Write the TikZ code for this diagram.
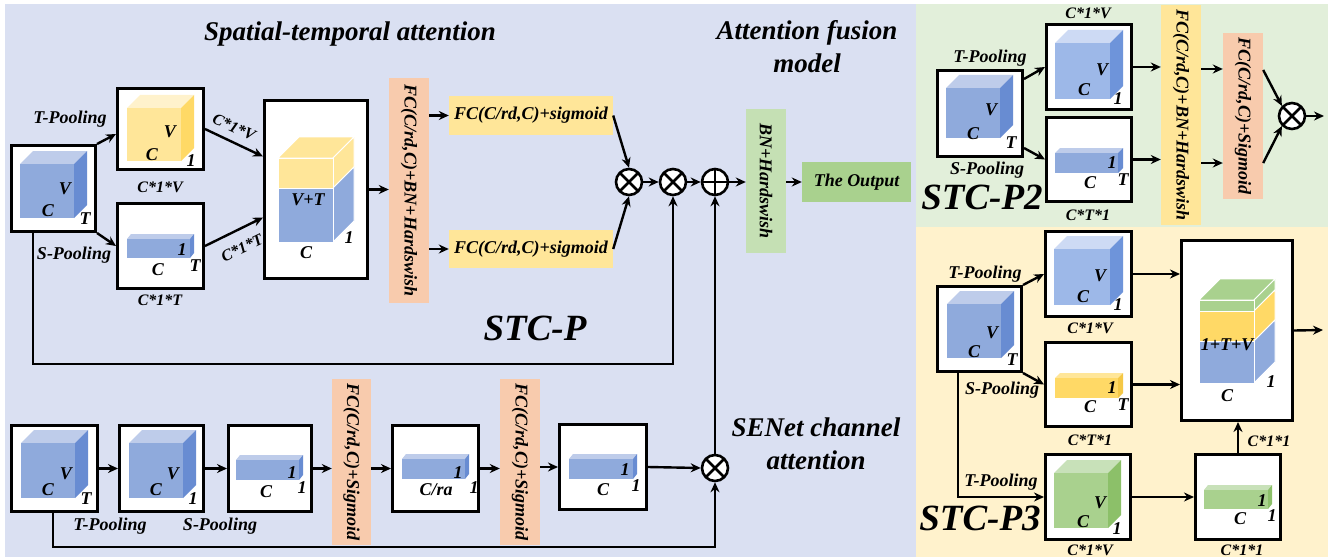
\documentclass[tikz,border=0pt]{standalone}
\usepackage{fontspec}
\setmainfont{Liberation Serif}
\usetikzlibrary{arrows.meta,calc}
\definecolor{bgblue}{RGB}{218,224,242}
\definecolor{bggreen}{RGB}{226,239,218}
\definecolor{bgyellow}{RGB}{255,242,204}
\definecolor{orangebar}{RGB}{248,203,173}
\definecolor{ybox}{RGB}{255,230,153}
\definecolor{gbar}{RGB}{197,224,180}
\definecolor{gout}{RGB}{169,209,142}
\definecolor{cbfront}{RGB}{143,170,220}
\definecolor{cbtop}{RGB}{190,204,234}
\definecolor{cbside}{RGB}{104,140,210}
\definecolor{clfront}{RGB}{157,184,232}
\definecolor{cltop}{RGB}{205,218,244}
\definecolor{clside}{RGB}{110,148,218}
\definecolor{cyfront}{RGB}{255,230,153}
\definecolor{cytop}{RGB}{255,242,204}
\definecolor{cyside}{RGB}{255,217,102}
\definecolor{cytfront}{RGB}{255,217,102}
\definecolor{cyttop}{RGB}{255,230,153}
\definecolor{cytside}{RGB}{245,200,70}
\definecolor{cgfront}{RGB}{169,209,142}
\definecolor{cgtop}{RGB}{200,225,185}
\definecolor{cgside}{RGB}{140,192,105}
\newcounter{lc}
\newcommand{\cl}[3]{\stepcounter{lc}\node[cl] (cl\thelc) at (#1,#2) {#3};}
\newcommand{\drawcube}[9]{%
  \fill[#8] (#1,#2) -- ({#1+#5},{#2-#6}) -- ({#3+#5},{#2-#6}) -- (#3,#2) -- cycle;
  \fill[#9] (#3,#2) -- ({#3+#5},{#2-#6}) -- ({#3+#5},{#4-#6}) -- (#3,#4) -- cycle;
  \fill[#7] (#1,#2) rectangle (#3,#4);}
\tikzset{
  wbox/.style={draw=black, fill=white, line width=3pt, inner sep=0pt},
  cl/.style={font=\fontsize{18}{20}\selectfont\bfseries\itshape, inner sep=0pt},
  lab/.style={font=\fontsize{18}{20}\selectfont\bfseries\itshape, inner sep=0pt},
  dim/.style={font=\fontsize{16}{18}\selectfont\bfseries\itshape, inner sep=0pt},
  ttl/.style={font=\fontsize{27}{33}\selectfont\bfseries\itshape, inner sep=0pt, align=center},
  big/.style={font=\fontsize{37}{40}\selectfont\bfseries\itshape, inner sep=0pt},
  arr/.style={line width=2.4pt, -{Stealth[length=10pt,width=9pt]}},
  mul/.style={circle, draw, fill=white, line width=2.6pt, minimum size=26pt, inner sep=0pt,
    path picture={\draw[line width=2.6pt] (path picture bounding box.north west) -- (path picture bounding box.south east)
      (path picture bounding box.north east) -- (path picture bounding box.south west);}},
  add/.style={circle, draw, fill=white, line width=2.6pt, minimum size=26pt, inner sep=0pt,
    path picture={\draw[line width=2.6pt] (path picture bounding box.north) -- (path picture bounding box.south)
      (path picture bounding box.east) -- (path picture bounding box.west);}},
  edge/.style={draw=white, line width=0.8pt}
}
\begin{document}
\begin{tikzpicture}[x=1pt,y=-1pt]
\useasboundingbox (0,0) rectangle (1340,559);
% panels
\fill[bgblue] (5,4) rectangle (916,557);
\fill[bggreen] (916,4) rectangle (1328,227);
\fill[bgyellow] (916,227) rectangle (1328,557);

% titles
\node[ttl] (t1) at (350,34) {Spatial-temporal attention};
\node[ttl] (t2) at (807,47) {Attention fusion\\model};
\node[ttl] (t3) at (816,444) {SENet channel\\attention};
\node[big] (t4) at (535,328) {STC-P};
\node[big] (t5) at (982,197) {STC-P2};
\node[big] (t6) at (980,518) {STC-P3};

% ===== STC-P =====
\node[wbox, minimum width=84pt, minimum height=86pt] (in1) at (53.5,188.5) {};
\node[wbox, minimum width=86pt, minimum height=81pt] (tp1) at (160.5,129) {};
\node[wbox, minimum width=86pt, minimum height=85pt] (sp1) at (160.5,246) {};
\node[wbox, minimum width=103pt, minimum height=178pt] (cat1) at (316,189.5) {};
\node[fill=orangebar, minimum width=40pt, minimum height=225pt, inner sep=0pt] (fc1) at (409,190.5) {};
\node[lab, rotate=-90] (fc1t) at (fc1) {FC(C/rd,C)+BN+Hardswish};
\node[fill=ybox, minimum width=164pt, minimum height=39pt, inner sep=0pt, font=\fontsize{18}{20}\selectfont\bfseries\itshape] (sg1) at (531,115.5) {FC(C/rd,C)+sigmoid};
\node[fill=ybox, minimum width=164pt, minimum height=38pt, inner sep=0pt, font=\fontsize{18}{20}\selectfont\bfseries\itshape] (sg2) at (531,249) {FC(C/rd,C)+sigmoid};
\node[mul] (m1) at (629,182) {};
\node[mul] (m2) at (673,182) {};
\node[add] (a1) at (715,182) {};
\node[fill=gbar, minimum width=40pt, minimum height=144pt, inner sep=0pt] (bn) at (766,181) {};
\node[lab, rotate=-90] (bnt) at (bn) {BN+Hardswish};
\node[fill=gout, minimum width=109pt, minimum height=40pt, inner sep=0pt, font=\fontsize{18}{20}\selectfont\bfseries\itshape] (out) at (856.5,182) {The Output};

\drawcube{20}{164}{74}{218}{13}{13}{cbfront}{cbtop}{cbside}
\cl{65}{189}{V}\cl{48}{211}{C}\cl{85}{219}{T}
\drawcube{127}{108}{181}{161}{13}{13}{cyfront}{cytop}{cyside}
\cl{170}{132}{V}\cl{152}{155}{C}\cl{191}{161}{1}
\drawcube{127}{239}{190}{258}{4}{5}{cbfront}{cbtop}{cbside}
\cl{182}{250}{1}\cl{158}{270}{C}\cl{195}{266}{T}
% stacked cube
\fill[cyfront, edge] (278,158) -- (299,137) -- (354,137) -- (333,158) -- cycle;
\fill[cyfront, edge] (333,158) -- (354,137) -- (354,167) -- (333,188) -- cycle;
\fill[cbfront, edge] (333,188) -- (354,167) -- (354,221) -- (333,242) -- cycle;
\fill[cyfront, edge] (278,158) rectangle (333,188);
\fill[cbfront, edge] (278,188) rectangle (333,242);
\cl{308}{200}{V+T}\cl{306}{253}{C}\cl{349}{238}{1}

\node[lab] (l1) at (70,119) {T-Pooling};
\node[lab] (l2) at (74,255) {S-Pooling};
\node[dim] (l3) at (160,187) {C*1*V};
\node[dim] (l4) at (160,300) {C*1*T};

\draw[arr] (in1.north east) -- ([yshift=-5pt]tp1.west);
\draw[arr] (in1.south east) -- (sp1.west);
\draw[arr] (tp1.east) -- ([yshift=33pt]cat1.west);
\draw[arr] (sp1.east) -- ([yshift=-28pt]cat1.west);
\node[dim, rotate=-25] (l5) at (234,127) {C*1*V};
\node[dim, rotate=26] (l6) at (242,248) {C*1*T};
\draw[arr] (cat1.east) -- (fc1.west |- cat1.east);
\draw[arr] (fc1.east |- sg1.west) -- (sg1.west);
\draw[arr] (fc1.east |- sg2.west) -- (sg2.west);
\draw[arr] (sg1.east) -- (m1.north);
\draw[arr] (sg2.east) -- (m1.south);
\draw[arr] (m1.east) -- (m2.west);
\draw[arr] (m2.east) -- (a1.west);
\draw[arr] (a1.east) -- (bn.west |- a1.east);
\draw[arr] (bn.east |- out.west) -- (out.west);
\draw[arr] ([xshift=-20.5pt]in1.south) -- ++(0,131) -| (m2.south);

% ===== SENet =====
\node[wbox, minimum width=86pt, minimum height=86pt] (sA) at (54.5,468.5) {};
\node[wbox, minimum width=84pt, minimum height=86pt] (sB) at (161.5,468.5) {};
\node[wbox, minimum width=83pt, minimum height=86pt] (sC) at (270,468.5) {};
\node[fill=orangebar, minimum width=39pt, minimum height=166pt, inner sep=0pt] (fo1) at (351.5,462) {};
\node[lab, rotate=-90] (fo1t) at (fo1) {FC(C/rd,C)+Sigmoid};
\node[wbox, minimum width=86pt, minimum height=86pt] (sD) at (435.5,468.5) {};
\node[fill=orangebar, minimum width=40pt, minimum height=166pt, inner sep=0pt] (fo2) at (520,462) {};
\node[lab, rotate=-90] (fo2t) at (fo2) {FC(C/rd,C)+Sigmoid};
\node[wbox, minimum width=87pt, minimum height=85pt] (sE) at (603,467) {};
\node[mul] (m3) at (715,468) {};

\drawcube{21}{443}{75}{498}{13}{13}{cbfront}{cbtop}{cbside}
\cl{66}{474}{V}\cl{48}{490}{C}\cl{86}{499}{T}
\drawcube{129}{443}{183}{498}{13}{13}{cbfront}{cbtop}{cbside}
\cl{173}{474}{V}\cl{156}{490}{C}\cl{193}{499}{1}
\drawcube{236}{460}{299}{480}{4}{5}{cbfront}{cbtop}{cbside}
\cl{292}{473}{1}\cl{266}{492}{C}\cl{302}{488}{1}
\drawcube{402}{459}{465}{479}{4}{5}{cbfront}{cbtop}{cbside}
\cl{458}{473}{1}\cl{436}{490}{C/ra}\cl{474}{488}{1}
\drawcube{569}{459}{633}{479}{4}{5}{cbfront}{cbtop}{cbside}
\cl{625}{470}{1}\cl{603}{490}{C}\cl{636}{486}{1}

\node[lab] (l7) at (110,526) {T-Pooling};
\node[lab] (l8) at (220,526) {S-Pooling};

\draw[arr] (sA.east) -- (sB.west);
\draw[arr] (sB.east) -- (sC.west);
\draw[arr] (sC.east) -- (fo1.west |- sC.east);
\draw[arr] (fo1.east |- sD.west) -- (sD.west);
\draw[arr] (sD.east) -- (fo2.west |- sD.east);
\draw[arr] (fo2.east |- sE.west) -- (sE.west);
\draw[arr] (sE.east) -- (m3.west);
\draw[arr] ([xshift=-1.5pt]sA.south) -- ++(0,34) -| (m3.south);
\draw[arr] (m3.north) -- (a1.south);

% ===== STC-P2 =====
\node[wbox, minimum width=85pt, minimum height=86pt] (p2in) at (980,113.5) {};
\node[wbox, minimum width=85pt, minimum height=85pt] (p2a) at (1089,67) {};
\node[wbox, minimum width=85pt, minimum height=84pt] (p2b) at (1089,159.5) {};
\node[fill=ybox, minimum width=40pt, minimum height=220pt, inner sep=0pt] (p2y) at (1181,115) {};
\node[lab, rotate=-90] (p2yt) at (p2y) {FC(C/rd,C)+BN+Hardswish};
\node[fill=orangebar, minimum width=40pt, minimum height=166pt, inner sep=0pt] (p2o) at (1243,116) {};
\node[lab, rotate=-90] (p2ot) at (p2o) {FC(C/rd,C)+Sigmoid};
\node[mul] (p2m) at (1292,116) {};
\coordinate (p2end) at (1324,116);

\drawcube{946}{88}{1000}{138}{13}{13}{cbfront}{cbtop}{cbside}
\cl{991}{110}{V}\cl{973}{134}{C}\cl{1011}{143}{T}
\drawcube{1055}{43}{1110}{99}{13}{13}{clfront}{cltop}{clside}
\cl{1102}{70}{V}\cl{1084}{90}{C}\cl{1118}{99}{1}
\drawcube{1055}{153}{1118}{173}{5}{5}{cbfront}{cbtop}{cbside}
\cl{1112}{163}{1}\cl{1090}{183}{C}\cl{1123}{180}{T}

\node[lab] (l9) at (990,58) {T-Pooling};
\node[lab] (l10) at (987,170) {S-Pooling};
\node[dim] (l11) at (1088,13) {C*1*V};
\node[dim] (l12) at (1088,215) {C*T*1};

\draw[arr] ([yshift=-10pt]p2in.north east) -- (p2a.west);
\draw[arr] ([yshift=10pt]p2in.south east) -- (p2b.west);
\draw[arr] (p2a.east) -- (p2y.west |- p2a.east);
\draw[arr] (p2b.east) -- (p2y.west |- p2b.east);
\draw[arr] ([yshift=46pt]p2y.east) -- ([yshift=47pt]p2o.west);
\draw[arr] ([yshift=-48pt]p2y.east) -- ([yshift=-47pt]p2o.west);
\draw[arr] ([yshift=46pt]p2o.east) -- (p2m.north west);
\draw[arr] ([yshift=-47pt]p2o.east) -- (p2m.south west);
\draw[arr] (p2m.east) -- (p2end);

% ===== STC-P3 =====
\node[wbox, minimum width=84pt, minimum height=85pt] (p3in) at (979.5,329) {};
\node[wbox, minimum width=86pt, minimum height=85pt] (p3a) at (1088.5,274) {};
\node[wbox, minimum width=86pt, minimum height=84pt] (p3b) at (1088.5,384.5) {};
\node[wbox, minimum width=111pt, minimum height=180pt] (p3c) at (1237,330.5) {};
\node[wbox, minimum width=85pt, minimum height=85pt] (p3d) at (1088,497) {};
\node[wbox, minimum width=85pt, minimum height=85pt] (p3e) at (1238,497) {};
\coordinate (p3end) at (1323,330);

\drawcube{947}{304}{1001}{358}{13}{13}{cbfront}{cbtop}{cbside}
\cl{992}{333}{V}\cl{974}{352}{C}\cl{1012}{360}{T}
\drawcube{1054}{249}{1110}{305}{13}{13}{clfront}{cltop}{clside}
\cl{1100}{276}{V}\cl{1083}{297}{C}\cl{1118}{305}{1}
\drawcube{1055}{378}{1118}{398}{5}{5}{cytfront}{cyttop}{cytside}
\cl{1112}{388}{1}\cl{1090}{407}{C}\cl{1123}{405}{T}
% stacked cube P3
\fill[cgfront, edge] (1199,300) -- (1220,279) -- (1275,279) -- (1254,300) -- cycle;
\fill[cgfront, edge] (1254,300) -- (1275,279) -- (1275,290) -- (1254,311) -- cycle;
\fill[cytfront, edge] (1254,311) -- (1275,290) -- (1275,320) -- (1254,341) -- cycle;
\fill[cbfront, edge] (1254,341) -- (1275,320) -- (1275,362) -- (1254,383) -- cycle;
\fill[cgfront, edge] (1199,300) rectangle (1254,311);
\fill[cytfront, edge] (1199,311) rectangle (1254,341);
\fill[cbfront, edge] (1199,341) rectangle (1254,383);
\cl{1227}{345}{1+T+V}\cl{1271}{382}{1}\cl{1227}{396}{C}
\drawcube{1054}{473}{1108}{528}{13}{13}{cgfront}{cgtop}{cgside}
\cl{1100}{503}{V}\cl{1083}{522}{C}\cl{1117}{529}{1}
\drawcube{1204}{490}{1268}{509}{4}{5}{cgfront}{cgtop}{cgside}
\cl{1262}{501}{1}\cl{1240}{519}{C}\cl{1272}{516}{1}

\node[lab] (l13) at (985,274) {T-Pooling};
\node[lab] (l14) at (1002,390) {S-Pooling};
\node[dim] (l15) at (1090,328) {C*1*V};
\node[dim] (l16) at (1090,440) {C*T*1};
\node[lab] (l17) at (1001,482) {T-Pooling};
\node[dim] (l18) at (1090,550) {C*1*V};
\node[dim] (l19) at (1242,550) {C*1*1};
\node[dim] (l20) at (1269,441) {C*1*1};

\draw[arr] (p3in.north east) -- (p3a.west);
\draw[arr] (p3in.south east) -- (p3b.west);
\draw[arr] (p3a.east) -- (p3c.west |- p3a.east);
\draw[arr] (p3b.east) -- (p3c.west |- p3b.east);
\draw[arr] (p3c.east) -- (p3end);
\draw[arr] ([xshift=-21.5pt]p3in.south) |- (p3d.west);
\draw[arr] (p3d.east) -- (p3e.west);
\draw[arr] (p3e.north) -- (p3e.north |- p3c.south);
\end{tikzpicture}
\end{document}
